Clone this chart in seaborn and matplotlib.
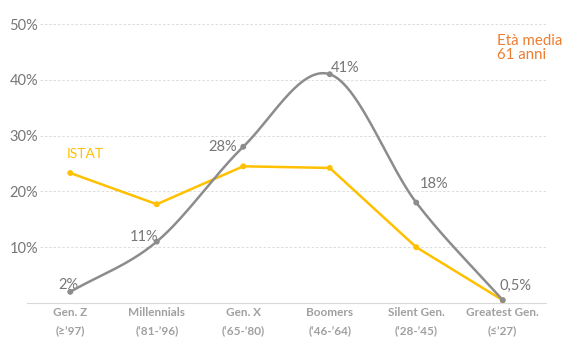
import numpy as np
import pandas as pd
import seaborn as sns
import matplotlib.pyplot as plt

# -----------------------------
# Data (percent)
# -----------------------------
generations = ["Gen. Z", "Millennials", "Gen. X", "Boomers", "Silent Gen.", "Greatest Gen."]
years = ["(≥’97)", "(‘81-’96)", "(‘65-’80)", "(‘46-’64)", "(‘28-’45)", "(≤’27)"]
sample = [2, 11, 28, 41, 18, 0.5]
istat = [23.3, 17.7, 24.5, 24.2, 10.0, 0.5]
sample_labels = ["2%", "11%", "28%", "41%", "18%", "0,5%"]
y_ticks = [10, 20, 30, 40, 50]

GRAY = "#8C8C8C"
YELLOW = "#FFC000"
ORANGE = "#ED7D31"
TEXT = "#767676"


def smooth(xs, ys, n=30):
    # Catmull-Rom style curve through the points (like Excel "smoothed line")
    xs = np.asarray(xs, float)
    ys = np.asarray(ys, float)
    px = np.concatenate([[2 * xs[0] - xs[1]], xs, [2 * xs[-1] - xs[-2]]])
    py = np.concatenate([[2 * ys[0] - ys[1]], ys, [2 * ys[-1] - ys[-2]]])
    out_x, out_y = [], []
    for i in range(1, len(px) - 2):
        t = np.linspace(0, 1, n, endpoint=False)
        for p, out in ((px, out_x), (py, out_y)):
            p0, p1, p2, p3 = p[i - 1], p[i], p[i + 1], p[i + 2]
            out.extend(0.5 * (2 * p1 + (-p0 + p2) * t
                              + (2 * p0 - 5 * p1 + 4 * p2 - p3) * t ** 2
                              + (-p0 + 3 * p1 - 3 * p2 + p3) * t ** 3))
    out_x.append(xs[-1])
    out_y.append(ys[-1])
    return np.array(out_x), np.array(out_y)


sns.set_style("white")
plt.rcParams["font.family"] = ["Lato", "DejaVu Sans"]

fig = plt.figure(figsize=(5.64, 3.42), dpi=100)
ax = fig.add_axes([27 / 564, 1 - 303 / 342, 519 / 564, 279 / 342])

pos = np.arange(len(generations))
df = pd.DataFrame({"pos": pos, "sample": sample, "istat": istat})

# gridlines
for v in y_ticks:
    ax.axhline(v, xmin=0.025, xmax=1, color="#DCDCDC", lw=0.7, ls=(0, (2.5, 2)), zorder=0)

# ISTAT line
sns.lineplot(data=df, x="pos", y="istat", color=YELLOW, lw=1.8, ax=ax, zorder=3)
sns.scatterplot(data=df, x="pos", y="istat", color=YELLOW, s=18, edgecolor="none", ax=ax, zorder=4)

# sample line (smoothed)
sx, sy = smooth(pos, sample)
sns.lineplot(x=sx, y=sy, color=GRAY, lw=1.8, ax=ax, sort=False, zorder=5)
sns.scatterplot(data=df, x="pos", y="sample", color=GRAY, s=18, edgecolor="none", ax=ax, zorder=6)

# value labels
offsets = [(-2, 7), (-13, 5), (-21, 0), (15, 6), (18, 19), (13, 14)]
for x, y, lab, (dx, dy) in zip(pos, sample, sample_labels, offsets):
    ax.annotate(lab, (x, y), xytext=(dx, dy), textcoords="offset pixels",
                ha="center", va="center", fontsize=10.5, color=TEXT)

ax.text(0.17, 25.6, "ISTAT", color=YELLOW, fontsize=10, ha="center", va="bottom")
fig.text(497 / 564, 1 - 48 / 342, "Età media\n61 anni", color=ORANGE,
         fontsize=10.8, ha="left", va="center", linespacing=1.05)

ax.set_xlim(-0.5, 5.5)
ax.set_ylim(0, 50)
ax.set_xticks(pos)
ax.set_xticklabels([f"{g}\n{y}" for g, y in zip(generations, years)],
                   fontsize=8.5, color="#A0A0A0", fontweight="bold", linespacing=1.8)
ax.set_xticks(pos[:-1] + 0.5, minor=True)
ax.set_yticks(y_ticks)
ax.set_yticklabels([f"{v}%" for v in y_ticks], fontsize=10.5, color=TEXT)
ax.tick_params(axis="y", length=0, pad=-8)
ax.tick_params(axis="x", which="major", length=0, pad=3)
ax.tick_params(axis="x", which="minor", length=3, color="#D9D9D9", direction="in")
ax.set_xlabel("")
ax.set_ylabel("")
for side in ["top", "right", "left"]:
    ax.spines[side].set_visible(False)
ax.spines["bottom"].set_color("#D9D9D9")

plt.savefig("out.png", dpi=100)
